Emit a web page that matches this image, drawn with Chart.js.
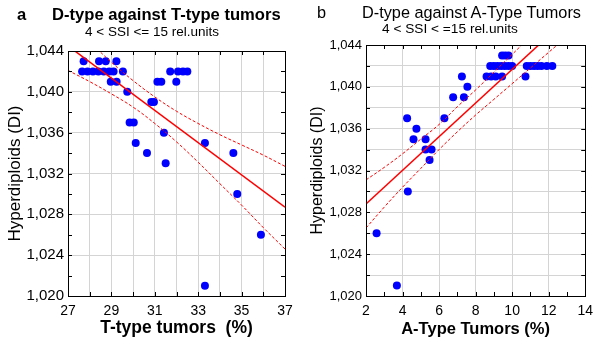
<!DOCTYPE html>
<html>
<head>
<meta charset="utf-8">
<script src="https://cdn.jsdelivr.net/npm/chart.js@4"></script>
<style>
  body { margin: 0; background: #fff; }
  #wrap { position: relative; width: 600px; height: 348px; font-family: "Liberation Sans", Arial, sans-serif; }
  canvas { position: absolute; top: 0; }
  .t { position: absolute; white-space: nowrap; color: #000; }
</style>
</head>
<body>
<div id="wrap">
  <canvas id="chartA" width="300" height="348" style="left:0"></canvas>
  <canvas id="chartB" width="300" height="348" style="left:300px"></canvas>
  <div class="t" style="left:17px;top:5px;font-size:16.6px;font-weight:bold">a</div>
  <div class="t" style="left:52px;top:5px;font-size:16.6px;font-weight:bold">D-type against T-type tumors</div>
  <div class="t" style="left:85px;top:24px;font-size:13.5px">4 &lt; SSI &lt;= 15 rel.units</div>
  <div class="t" style="left:317px;top:3px;font-size:16.3px">b</div>
  <div class="t" style="left:362px;top:3px;font-size:16.3px">D-type against A-Type Tumors</div>
  <div class="t" style="left:382px;top:21px;font-size:13.7px">4 &lt; SSI &lt; =15 rel.units</div>
</div>
<script>
// panel a: D-type vs T-type tumors
const tX = [27.72, 28.43, 28.74, 29.23,
  27.65, 27.9, 28.15, 28.4, 28.65, 28.9, 29.1, 29.53, 31.71, 32.07, 32.3, 32.5,
  28.97, 29.24, 31.12, 31.3, 31.99,
  29.73, 30.84, 30.96, 29.84, 30.03, 31.42, 30.12, 33.31, 30.64, 34.62, 31.5,
  34.8, 35.89, 33.31];
const tY = [1.043, 1.043, 1.043, 1.043,
  1.042, 1.042, 1.042, 1.042, 1.042, 1.042, 1.042, 1.042, 1.042, 1.042, 1.042, 1.042,
  1.041, 1.041, 1.041, 1.041, 1.041,
  1.040, 1.039, 1.039, 1.037, 1.037, 1.036, 1.035, 1.035, 1.034, 1.034, 1.033,
  1.030, 1.026, 1.021];
const fitTX = [27, 37];
const fitTY = [1.0445, 1.0287];
const bandTX = [27, 28, 29, 30, 31, 32, 33, 34, 35, 36, 37];
const upperT = [1.0469, 1.0449, 1.0429, 1.0411, 1.0395, 1.0381, 1.0369, 1.0358, 1.0348, 1.0338, 1.0327];
const lowerT = [1.0421, 1.0410, 1.0398, 1.0385, 1.0369, 1.0351, 1.0331, 1.0310, 1.0289, 1.0267, 1.0246];

// panel b: D-type vs A-type tumors
const aX = [9.45, 9.62, 9.8,
  8.8, 9.0, 9.2, 9.4, 9.6, 9.8, 10.0, 10.8, 11.0, 11.2, 11.4, 11.6, 11.9, 12.2,
  7.25, 8.6, 8.85, 9.1, 9.45, 10.73,
  7.55, 6.77, 7.36, 4.25, 6.29, 4.76, 4.6, 5.26, 5.26, 5.59, 5.48,
  4.29, 2.58, 3.69];
const aY = [1.043, 1.043, 1.043,
  1.042, 1.042, 1.042, 1.042, 1.042, 1.042, 1.042, 1.042, 1.042, 1.042, 1.042, 1.042, 1.042, 1.042,
  1.041, 1.041, 1.041, 1.041, 1.041, 1.041,
  1.040, 1.039, 1.039, 1.037, 1.037, 1.036, 1.035, 1.035, 1.034, 1.034, 1.033,
  1.030, 1.026, 1.021];
const fitAX = [2, 14];
const fitAY = [1.0288, 1.0481];
const bandAX = [2, 3, 4, 5, 6, 7, 8, 9, 10, 11, 12, 13];
const upperA = [1.0311, 1.0323, 1.0336, 1.0350, 1.0364, 1.0381, 1.0397, 1.0414, 1.0431, 1.0448, 1.0465, 1.0482];
const lowerA = [1.0265, 1.0285, 1.0304, 1.0322, 1.0340, 1.0357, 1.0373, 1.0388, 1.0403, 1.0418, 1.0433, 1.0448];

const yTicks = [1.020, 1.024, 1.028, 1.032, 1.036, 1.040, 1.044];

function pts(xs, ys) {
  return xs.map((x, i) => ({ x: x, y: ys[i] }));
}

// frame with small inward ticks, like the original plot
const framePlugin = {
  id: 'frame',
  afterDraw(chart, args, opts) {
    const ctx = chart.ctx, a = chart.chartArea;
    const xs = chart.scales.x, ys = chart.scales.y;
    ctx.save();
    ctx.strokeStyle = '#000';
    ctx.lineWidth = 1;
    ctx.beginPath();
    for (let v = xs.min; v <= xs.max + 1e-9; v += opts.xStep) {
      const px = Math.round(xs.getPixelForValue(v)) + 0.5;
      ctx.moveTo(px, a.top); ctx.lineTo(px, a.top + 4);
      ctx.moveTo(px, a.bottom); ctx.lineTo(px, a.bottom - 4);
    }
    for (let v = ys.min; v <= ys.max + 1e-9; v += 0.002) {
      const py = Math.round(ys.getPixelForValue(v)) + 0.5;
      ctx.moveTo(a.left, py); ctx.lineTo(a.left + 4, py);
      ctx.moveTo(a.right, py); ctx.lineTo(a.right - 4, py);
    }
    ctx.stroke();
    ctx.strokeRect(Math.round(a.left) + 0.5, Math.round(a.top) + 0.5,
      Math.round(a.right - a.left), Math.round(a.bottom - a.top));
    ctx.restore();
  }
};

function makeChart(id, cfg) {
  return new Chart(document.getElementById(id), {
    type: 'scatter',
    data: {
      datasets: [
        { data: pts(cfg.px, cfg.py), backgroundColor: '#0000ff', borderWidth: 0, pointRadius: 4, order: 2 },
        { type: 'line', data: pts(cfg.fx, cfg.fy), borderColor: '#ff0000', borderWidth: 1.5, pointRadius: 0, order: 1 },
        { type: 'line', data: pts(cfg.bx, cfg.up), borderColor: '#ff0000', borderWidth: 1, borderDash: [3, 2], pointRadius: 0, tension: 0.4, order: 1 },
        { type: 'line', data: pts(cfg.bx, cfg.lo), borderColor: '#ff0000', borderWidth: 1, borderDash: [3, 2], pointRadius: 0, tension: 0.4, order: 1 }
      ]
    },
    options: {
      responsive: false,
      animation: false,
      devicePixelRatio: 1,
      layout: { padding: { top: cfg.top, right: cfg.right, left: 0, bottom: 0 } },
      plugins: { legend: { display: false }, tooltip: { enabled: false }, frame: { xStep: 1 } },
      scales: {
        x: {
          type: 'linear', min: cfg.xmin, max: cfg.xmax,
          afterFit: s => { s.height = 52; },
          grid: { color: '#d4d4d4', drawTicks: false },
          border: { display: false },
          ticks: {
            stepSize: cfg.xGridStep, padding: 7, color: '#000',
            font: { family: 'Liberation Sans', size: cfg.xTickSize },
            callback: v => (Math.round(v - cfg.xmin) % 2 === 0 ? String(v) : '')
          },
          title: { display: true, text: cfg.xTitle, color: '#000', padding: { top: 2, bottom: 9 },
            font: { family: 'Liberation Sans', size: cfg.xTitleSize, weight: 'bold' } }
        },
        y: {
          type: 'linear', min: 1.020, max: 1.044,
          afterFit: s => { s.width = cfg.left; },
          grid: { color: '#d4d4d4', drawTicks: false },
          border: { display: false },
          ticks: {
            stepSize: 0.002, padding: 4, color: '#000',
            font: { family: 'Liberation Sans', size: cfg.yTickSize },
            callback: v => (yTicks.some(t => Math.abs(t - v) < 1e-6) ? v.toFixed(3).replace('.', ',') : '')
          },
          title: { display: true, text: 'Hyperdiploids (DI)', color: '#000', padding: { top: cfg.yTitlePad, bottom: 0 },
            font: { family: 'Liberation Sans', size: cfg.yTitleSize } }
        }
      }
    },
    plugins: [framePlugin]
  });
}

makeChart('chartA', {
  px: tX, py: tY, fx: fitTX, fy: fitTY, bx: bandTX, up: upperT, lo: lowerT,
  xmin: 27, xmax: 37, xGridStep: 1, xTitle: 'T-type tumors  (%)',
  top: 51, right: 15, left: 68,
  xTickSize: 14, yTickSize: 15, xTitleSize: 17.5, yTitleSize: 17, yTitlePad: 5
});
makeChart('chartB', {
  px: aX, py: aY, fx: fitAX, fy: fitAY, bx: bandAX, up: upperA, lo: lowerA,
  xmin: 2, xmax: 14, xGridStep: 2, xTitle: 'A-Type Tumors (%)',
  top: 45, right: 13, left: 66,
  xTickSize: 14, yTickSize: 13, xTitleSize: 16.5, yTitleSize: 16, yTitlePad: 8
});
</script>
</body>
</html>
